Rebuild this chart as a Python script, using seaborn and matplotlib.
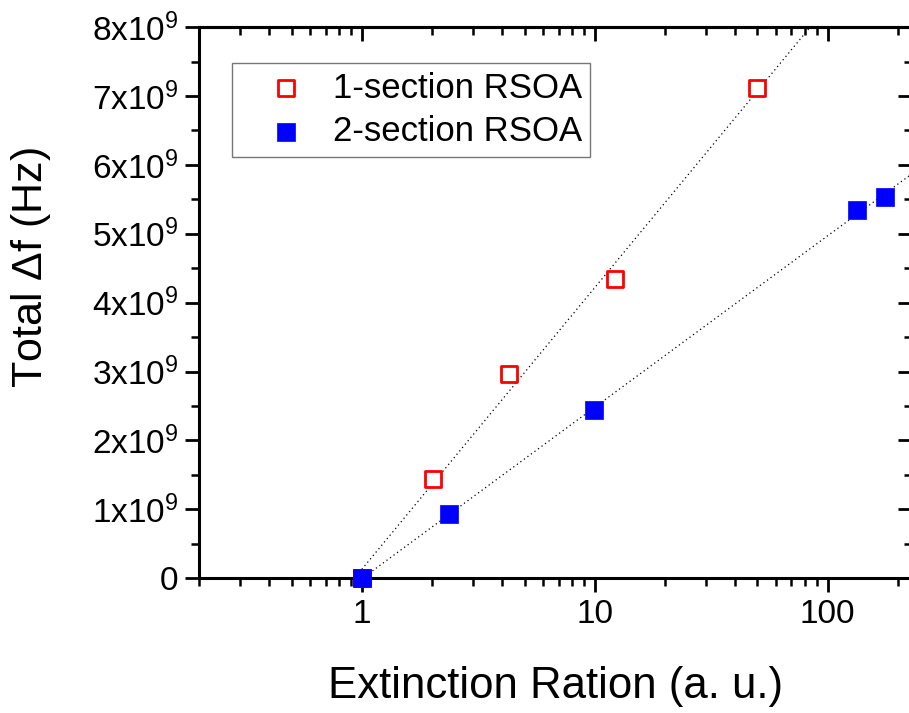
import numpy as np
import matplotlib
matplotlib.use("Agg")
import matplotlib.pyplot as plt
import matplotlib.ticker as mticker
import seaborn as sns

# data
ext_1sec = [1.0, 2.02, 4.3, 12.2, 50.0]
df_1sec = [0.0, 1.44e9, 2.97e9, 4.35e9, 7.11e9]
ext_2sec = [1.0, 2.36, 9.9, 134.0, 176.0]
df_2sec = [0.0, 0.93e9, 2.44e9, 5.34e9, 5.54e9]
labels = ["1-section RSOA", "2-section RSOA"]

sns.set_style("ticks", rc={"axes.edgecolor": "black", "text.color": "black",
                           "axes.labelcolor": "black", "xtick.color": "black",
                           "ytick.color": "black"})
plt.rcParams["font.family"] = ["Liberation Sans", "DejaVu Sans"]
plt.rcParams["mathtext.fontset"] = "custom"
plt.rcParams["mathtext.rm"] = "Liberation Sans"
plt.rcParams["mathtext.it"] = "Liberation Sans"

fig = plt.figure(figsize=(9.09, 7.13), dpi=100)
ax = fig.add_axes([0.219, 0.189, 0.784, 0.773])

# dotted linear-in-log fits
xfit = np.logspace(0, np.log10(260), 200)
for xs, ys in [(ext_1sec, df_1sec), (ext_2sec, df_2sec)]:
    b, a = np.polyfit(np.log10(xs), ys, 1)
    sns.lineplot(x=xfit, y=a + b * np.log10(xfit), ax=ax, color="black",
                 linestyle=(0, (1, 2.5)), linewidth=0.9, zorder=1)

sns.scatterplot(x=ext_1sec, y=df_1sec, ax=ax, marker="s", s=120,
                facecolor="white", edgecolor="red", linewidth=2,
                label=labels[0], zorder=3, clip_on=False)
sns.scatterplot(x=ext_2sec, y=df_2sec, ax=ax, marker="s", s=150,
                color="blue", edgecolor="blue", linewidth=0.5,
                label=labels[1], zorder=3, clip_on=False)

ax.set_xscale("log")
ax.set_xlim(0.2, 230)
ax.set_ylim(0, 8e9)

ax.xaxis.set_major_locator(mticker.LogLocator(base=10))
ax.xaxis.set_minor_locator(mticker.LogLocator(base=10, subs=np.arange(2, 10)))
ax.xaxis.set_major_formatter(mticker.FuncFormatter(lambda v, p: f"{v:g}"))
ax.xaxis.set_minor_formatter(mticker.NullFormatter())

ax.yaxis.set_major_locator(mticker.MultipleLocator(1e9))
ax.yaxis.set_minor_locator(mticker.MultipleLocator(0.5e9))
ax.yaxis.set_major_formatter(mticker.FuncFormatter(
    lambda v, p: "0" if v == 0 else f"{int(round(v / 1e9))}x10$^{{9}}$"))

ax.tick_params(which="major", direction="out", length=10, width=2,
               labelsize=24, pad=5)
ax.tick_params(which="minor", direction="out", length=6, width=1.8)
for s in ax.spines.values():
    s.set_linewidth(2.2)

top = ax.secondary_xaxis("top")
top.tick_params(which="major", direction="in", length=10, width=2, labeltop=False)
top.tick_params(which="minor", direction="in", length=6, width=1.8)
top.xaxis.set_minor_locator(mticker.LogLocator(base=10, subs=np.arange(2, 10)))
top.spines["top"].set_linewidth(2.2)
right = ax.secondary_yaxis("right")
right.yaxis.set_minor_locator(mticker.MultipleLocator(0.5e9))
right.tick_params(which="major", direction="in", length=10, width=2, labelright=False)
right.tick_params(which="minor", direction="in", length=6, width=1.8)

ax.set_xlabel("Extinction Ration (a. u.)", fontsize=31.5, labelpad=26)
ax.set_ylabel("Total $\\Delta$f (Hz)", fontsize=31)
ax.yaxis.set_label_coords(-0.205, 0.563)

leg = ax.legend(loc="upper left", bbox_to_anchor=(0.046, 0.935), fontsize=25,
                frameon=True, fancybox=False, edgecolor="#555555",
                handlelength=2.6, handletextpad=0.05, borderpad=0.25,
                labelspacing=0.3, borderaxespad=0)
leg.get_frame().set_linewidth(1.0)

fig.savefig("out.png", dpi=100)
